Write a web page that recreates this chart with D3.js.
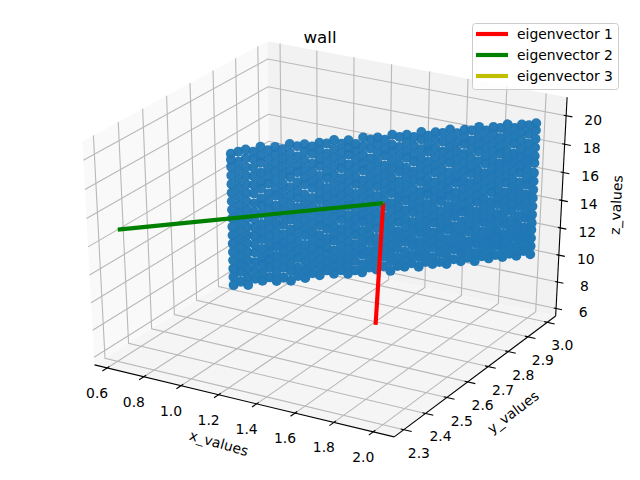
<!DOCTYPE html>
<html>
<head>
<meta charset="utf-8">
<script src="https://d3js.org/d3.v7.min.js"></script>
<style>
  body { margin: 0; background: #fff; }
  text { font-family: "DejaVu Sans", sans-serif; fill: #000; }
</style>
</head>
<body>
<div id="chart"></div>
<script>
// tick labels
const xTicks = [0.6, 0.8, 1.0, 1.2, 1.4, 1.6, 1.8, 2.0];
const yTicks = [2.3, 2.4, 2.5, 2.6, 2.7, 2.8, 2.9, 3.0];
const zTicks = [6, 8, 10, 12, 14, 16, 18, 20];

// axis limits
const xLimits = [0.531, 2.106];
const yLimits = [2.256, 3.044];
const zLimits = [5.43, 21.28];

// eigenvectors, all from the centre of the wall
const vectorNames = ["eigenvector 1", "eigenvector 2", "eigenvector 3"];
const vectorColors = ["#ff0000", "#008000", "#bfbf00"];
const vectorStart = [1.49, 2.75, 14.94];
const vectorEnds = [[1.457, 2.75, 5.92], [0.636, 2.30, 15.08], [1.49, 2.752, 14.94]];

const wallX = [0.990,1.014,1.038,1.062,1.086,1.110,1.134,1.158,1.182,1.206,1.230,1.255,1.279,1.303,1.327,1.351,1.375,1.399,1.423,1.447,1.471,1.495,1.519,1.543,1.567,1.591,1.615,1.639,1.663,1.687,1.711,1.735,1.760,1.784,1.808,1.832,1.856,1.880,1.904,1.928,1.952,1.976,2.000];
const wallY = [2.500,2.512,2.524,2.536,2.548,2.560,2.571,2.583,2.595,2.607,2.619,2.631,2.643,2.655,2.667,2.679,2.690,2.702,2.714,2.726,2.738,2.750,2.762,2.774,2.786,2.798,2.810,2.821,2.833,2.845,2.857,2.869,2.881,2.893,2.905,2.917,2.929,2.940,2.952,2.964,2.976,2.988,3.000];
const wallZ = [
  [10.1,10.7,11.3,11.9,12.5,13.1,13.7,14.3,14.9,15.5,16.1,16.7,17.3,17.9,18.5,19.0,19.4],
  [10.3,11.0,11.6,12.2,12.8,13.4,14.0,14.6,15.2,15.8,16.4,17.0,17.6,18.2,18.8,19.5],
  [10.0,10.6,11.2,11.8,12.4,13.0,13.6,14.2,14.8,15.4,16.0,16.6,17.2,17.8,18.4,19.0,19.6],
  [10.4,11.0,11.6,12.3,12.9,13.5,14.1,14.7,15.2,15.8,16.5,17.1,17.7,18.3,18.9,19.4],
  [10.2,10.8,11.4,11.9,12.5,13.2,13.7,14.3,15.0,15.6,16.1,16.8,17.3,17.9,18.6,19.1,19.7],
  [10.4,11.1,11.7,12.2,12.8,13.4,14.0,14.6,15.3,15.8,16.4,17.1,17.6,18.2,18.8,19.4],
  [10.1,10.7,11.3,11.9,12.6,13.1,13.7,14.3,14.9,15.5,16.2,16.7,17.3,17.9,18.5,19.1,19.6],
  [10.3,11.0,11.6,12.2,12.8,13.4,14.1,14.7,15.2,15.8,16.4,17.0,17.6,18.2,18.8,19.4],
  [10.0,10.7,11.3,11.9,12.5,13.1,13.7,14.4,14.9,15.5,16.1,16.7,17.4,17.9,18.5,19.1,19.7],
  [10.3,10.9,11.6,12.2,12.8,13.4,14.0,14.6,15.2,15.9,16.4,17.0,17.7,18.2,18.8,19.5],
  [10.1,10.7,11.3,11.9,12.5,13.2,13.7,14.3,14.9,15.5,16.1,16.8,17.3,17.9,18.5,19.1,19.6],
  [10.4,11.0,11.6,12.2,12.8,13.4,14.0,14.6,15.2,15.8,16.5,17.0,17.6,18.2,18.9,19.4],
  [10.2,10.8,11.4,12.0,12.5,13.1,13.8,14.3,14.9,15.6,16.1,16.7,17.3,18.0,18.5,19.1,19.6],
  [10.5,11.1,11.7,12.2,12.8,13.5,14.0,14.6,15.2,15.8,16.4,17.1,17.6,18.2,18.8,19.5],
  [10.2,10.7,11.3,11.9,12.6,13.1,13.7,14.3,14.9,15.5,16.1,16.7,17.3,17.9,18.5,19.1,19.7],
  [10.4,11.0,11.6,12.2,12.8,13.4,14.1,14.6,15.2,15.8,16.4,17.0,17.7,18.2,18.8,19.4],
  [10.1,10.7,11.3,11.9,12.5,13.1,13.7,14.3,15.0,15.5,16.1,16.7,17.3,17.9,18.6,19.1,19.6],
  [10.3,11.0,11.6,12.2,12.9,13.4,14.0,14.6,15.2,15.8,16.5,17.0,17.6,18.2,18.8,19.3],
  [10.1,10.7,11.4,11.9,12.5,13.1,13.8,14.3,14.9,15.5,16.1,16.7,17.4,17.9,18.5,19.1,19.7],
  [10.4,11.0,11.6,12.3,12.8,13.4,14.0,14.6,15.3,15.8,16.4,17.0,17.6,18.2,18.9,19.5],
  [10.2,10.8,11.3,11.9,12.5,13.2,13.7,14.3,14.9,15.5,16.2,16.7,17.3,17.9,18.5,19.1,19.6],
  [10.4,11.1,11.7,12.2,12.8,13.4,14.0,14.7,15.2,15.8,16.4,17.0,17.6,18.3,18.8,19.4],
  [10.0,10.7,11.3,11.9,12.5,13.1,13.7,14.3,14.9,15.6,16.1,16.7,17.3,17.9,18.5,19.0,19.7],
  [10.3,10.9,11.6,12.2,12.8,13.5,14.0,14.6,15.2,15.8,16.4,17.1,17.6,18.2,18.8,19.5],
  [10.2,10.7,11.3,12.0,12.5,13.1,13.7,14.3,15.0,15.5,16.1,16.7,17.3,18.0,18.5,19.1,19.6],
  [10.4,11.0,11.7,12.2,12.8,13.4,14.1,14.6,15.2,15.8,16.4,17.0,17.7,18.2,18.8,19.4],
  [10.1,10.8,11.3,11.9,12.6,13.1,13.7,14.3,14.9,15.5,16.2,16.7,17.3,17.9,18.5,19.2,19.7],
  [10.4,11.0,11.6,12.2,12.8,13.4,14.0,14.6,15.3,15.8,16.4,17.0,17.6,18.3,18.8,19.4],
  [10.2,10.7,11.4,11.9,12.5,13.2,13.7,14.3,14.9,15.5,16.1,16.8,17.3,17.9,18.5,19.1,19.6],
  [10.3,11.0,11.6,12.2,12.8,13.4,14.0,14.7,15.2,15.8,16.4,17.0,17.6,18.2,18.9,19.5],
  [10.1,10.7,11.3,11.9,12.6,13.1,13.7,14.3,15.0,15.5,16.1,16.7,17.4,17.9,18.5,19.1,19.7],
  [10.4,11.1,11.6,12.2,12.8,13.5,14.0,14.6,15.2,15.9,16.4,17.0,17.6,18.2,18.8,19.4],
  [10.2,10.8,11.3,11.9,12.5,13.1,13.8,14.3,14.9,15.5,16.1,16.7,17.3,17.9,18.6,19.1,19.6],
  [10.4,11.0,11.6,12.3,12.8,13.4,14.0,14.6,15.2,15.8,16.5,17.0,17.6,18.2,18.8,19.5],
  [10.1,10.7,11.4,11.9,12.5,13.1,13.7,14.4,14.9,15.5,16.1,16.7,17.3,18.0,18.5,19.1,19.7],
  [10.4,11.0,11.6,12.2,12.9,13.4,14.0,14.6,15.2,15.8,16.4,17.1,17.6,18.2,18.8,19.4],
  [10.2,10.8,11.3,11.9,12.5,13.1,13.7,14.3,15.0,15.5,16.1,16.7,17.3,17.9,18.5,19.1,19.6],
  [10.4,11.1,11.7,12.2,12.8,13.4,14.1,14.6,15.2,15.8,16.4,17.0,17.7,18.2,18.8,19.5],
  [10.2,10.8,11.3,11.9,12.6,13.1,13.7,14.3,14.9,15.6,16.1,16.7,17.3,17.9,18.5,19.1,19.7],
  [10.4,11.0,11.6,12.2,12.8,13.5,14.0,14.6,15.2,15.8,16.4,17.0,17.6,18.3,18.8,19.4],
  [10.2,10.8,11.4,11.9,12.5,13.1,13.8,14.3,14.9,15.5,16.2,16.7,17.3,17.9,18.5,19.1,19.6],
  [10.5,11.1,11.6,12.2,12.9,13.4,14.0,14.6,15.3,15.8,16.4,17.0,17.6,18.2,18.9,19.5],
  [10.2,10.8,11.4,12.0,12.5,13.1,13.7,14.3,14.9,15.5,16.1,16.8,17.3,17.9,18.5,19.1,19.6]
];

const width = 640, height = 480;
const svg = d3.select("#chart").append("svg")
    .attr("width", width)
    .attr("height", height);

// data to unit cube
const xs = d3.scaleLinear().domain(xLimits).range([0, 1]);
const ys = d3.scaleLinear().domain(yLimits).range([0, 1]);
const zs = d3.scaleLinear().domain(zLimits).range([0, 1]);

// view plane to pixels
const screenX = d3.scaleLinear().domain([-0.095, 0.09]).range([0, width]);
const screenY = d3.scaleLinear().domain([-0.095, 0.09]).range([474.7, 2.6]);

// camera: elev 30, azim -60, dist 10
const dist = 10;
const elev = 30 * Math.PI / 180, azim = -60 * Math.PI / 180;
const n = [Math.cos(azim) * Math.cos(elev), Math.sin(azim) * Math.cos(elev), Math.sin(elev)];
const u = [-n[1], n[0], 0].map(d => d / Math.hypot(n[0], n[1]));
const v = [n[1] * u[2] - n[2] * u[1], n[2] * u[0] - n[0] * u[2], n[0] * u[1] - n[1] * u[0]];
const dot = (p, q) => p[0] * q[0] + p[1] * q[1] + p[2] * q[2];

function depth(p) {
    return dist - dot(n, [p[0] - 0.5, p[1] - 0.5, p[2] - 0.5]);
}

// p is in unit cube coordinates
function projectUnit(p) {
    const d = [p[0] - 0.5, p[1] - 0.5, p[2] - 0.5];
    const w = depth(p);
    return [screenX(dot(u, d) / w), screenY(dot(v, d) / w)];
}

function project(x, y, z) {
    return projectUnit([xs(x), ys(y), zs(z)]);
}

const unitLine = d3.line().x(d => projectUnit(d)[0]).y(d => projectUnit(d)[1]);

// panes
const panes = [
    { color: "#f9f9f9", corners: [[0, 0, 0], [0, 1, 0], [0, 1, 1], [0, 0, 1]] },
    { color: "#f2f2f2", corners: [[0, 1, 0], [1, 1, 0], [1, 1, 1], [0, 1, 1]] },
    { color: "#f5f5f5", corners: [[0, 0, 0], [1, 0, 0], [1, 1, 0], [0, 1, 0]] }
];
svg.append("g").selectAll("path")
    .data(panes)
    .enter().append("path")
    .attr("d", d => unitLine(d.corners) + "Z")
    .attr("fill", d => d.color);

// grid
const gridLines = [
    ...xTicks.map(t => [[xs(t), 0, 0], [xs(t), 1, 0], [xs(t), 1, 1]]),
    ...yTicks.map(t => [[0, ys(t), 1], [0, ys(t), 0], [1, ys(t), 0]]),
    ...zTicks.map(t => [[0, 0, zs(t)], [0, 1, zs(t)], [1, 1, zs(t)]])
];
svg.append("g").selectAll("path")
    .data(gridLines)
    .enter().append("path")
    .attr("d", unitLine)
    .attr("fill", "none")
    .attr("stroke", "#b8b8b8")
    .attr("stroke-width", 1.1);

// axis lines and tick marks
const axisLines = [
    [[0, 0, 0], [1, 0, 0]],
    [[1, 0, 0], [1, 1, 0]],
    [[1, 1, 0], [1, 1, 1]],
    ...xTicks.map(t => [[xs(t), -0.025, 0], [xs(t), 0.012, 0]]),
    ...yTicks.map(t => [[0.99, ys(t), 0], [1.025, ys(t), 0]]),
    ...zTicks.map(t => [[0.992, 1, zs(t)], [1.02, 1, zs(t)]])
];
svg.append("g").selectAll("path")
    .data(axisLines)
    .enter().append("path")
    .attr("d", unitLine)
    .attr("fill", "none")
    .attr("stroke", "#000")
    .attr("stroke-width", 1.1);

// tick labels
function tickLabels(ticks, place, fmt, dx, dy) {
    svg.append("g").selectAll("text")
        .data(ticks)
        .enter().append("text")
        .attr("x", d => place(d)[0] + dx)
        .attr("y", d => place(d)[1] + dy)
        .attr("dy", "0.36em")
        .attr("text-anchor", "middle")
        .style("font-size", "13.9px")
        .text(fmt);
}
tickLabels(xTicks, t => projectUnit([xs(t), 0, 0]), d3.format(".1f"), -10, 25);
tickLabels(yTicks, t => projectUnit([1, ys(t), 0]), d3.format(".1f"), 15, 23);
tickLabels(zTicks, t => projectUnit([1, 1, zs(t)]), d3.format("d"), 27, 4);

// axis titles
const axisTitles = [
    { label: "x_values", x: 219, y: 443, angle: 16 },
    { label: "y_values", x: 513, y: 412, angle: -37 },
    { label: "z_values", x: 616, y: 205, angle: -87 }
];
svg.append("g").selectAll("text")
    .data(axisTitles)
    .enter().append("text")
    .attr("transform", d => `translate(${d.x},${d.y}) rotate(${d.angle})`)
    .attr("dy", "0.36em")
    .attr("text-anchor", "middle")
    .style("font-size", "13.9px")
    .text(d => d.label);

// scatter
const points = wallZ.flatMap((column, i) => column.map(z => [wallX[i], wallY[i], z]));
const fade = d3.scaleLinear()
    .domain(d3.extent(points, d => depth([xs(d[0]), ys(d[1]), zs(d[2])])))
    .range([0.95, 1]);
const sorted = points.slice().sort((a, b) =>
    depth([xs(b[0]), ys(b[1]), zs(b[2])]) - depth([xs(a[0]), ys(a[1]), zs(a[2])]));
svg.append("g").selectAll("circle")
    .data(sorted)
    .enter().append("circle")
    .attr("cx", d => project(...d)[0])
    .attr("cy", d => project(...d)[1])
    .attr("r", 5)
    .attr("fill", "#1f77b4")
    .attr("opacity", d => fade(depth([xs(d[0]), ys(d[1]), zs(d[2])])));

// eigenvectors, yellow first so the other two cover it
const drawOrder = [2, 0, 1];
svg.append("g").selectAll("path")
    .data(drawOrder)
    .enter().append("path")
    .attr("d", i => d3.line()([project(...vectorStart), project(...vectorEnds[i])]))
    .attr("stroke", i => vectorColors[i])
    .attr("stroke-width", 4.17)
    .attr("fill", "none");

// title
svg.append("text")
    .attr("x", 320)
    .attr("y", 37)
    .attr("dy", "0.36em")
    .attr("text-anchor", "middle")
    .style("font-size", "16.67px")
    .text("wall");

// legend
const legend = svg.append("g");
legend.append("rect")
    .attr("x", 472.5)
    .attr("y", 23.5)
    .attr("width", 146)
    .attr("height", 66)
    .attr("rx", 3)
    .attr("fill", "#fff")
    .attr("fill-opacity", 0.8)
    .attr("stroke", "#ccc")
    .attr("stroke-width", 1);
const legendY = d3.scalePoint().domain(vectorNames).range([34, 76]);
const rows = legend.selectAll("g")
    .data(vectorNames)
    .enter().append("g")
    .attr("transform", d => `translate(0,${legendY(d)})`);
rows.append("line")
    .attr("x1", 476)
    .attr("x2", 508)
    .attr("stroke", (d, i) => vectorColors[i])
    .attr("stroke-width", 4.17);
rows.append("text")
    .attr("x", 517)
    .attr("dy", "0.36em")
    .style("font-size", "13.9px")
    .text(d => d);
</script>
</body>
</html>
